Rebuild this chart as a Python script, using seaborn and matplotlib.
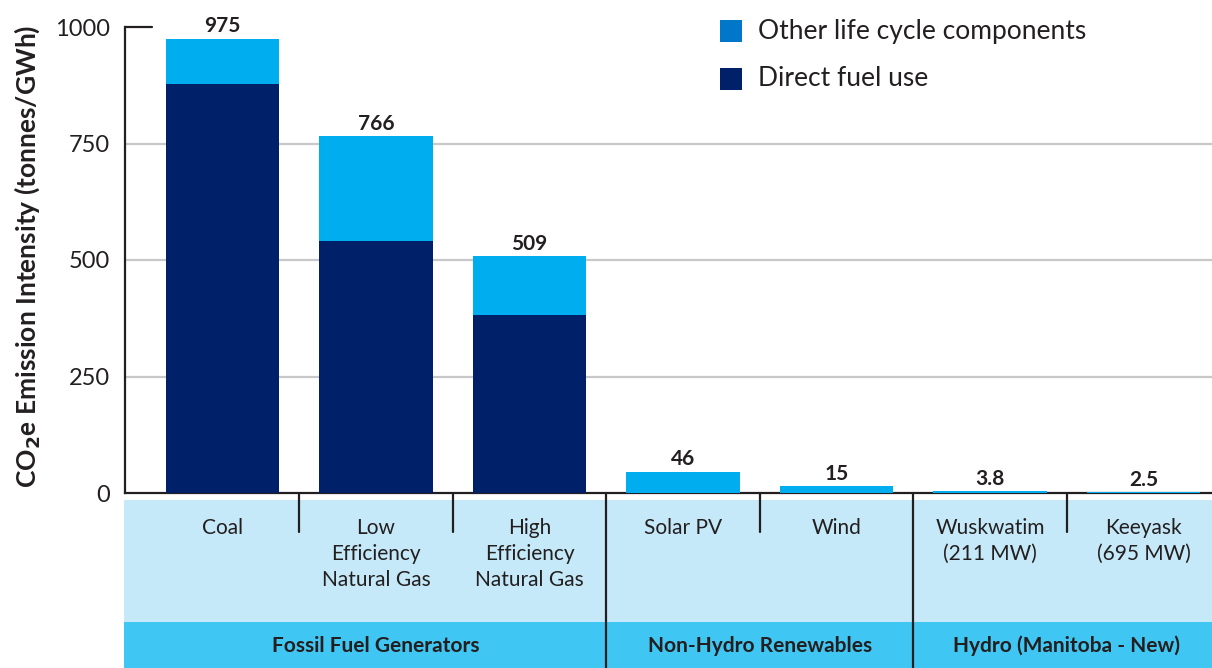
import matplotlib
matplotlib.use("Agg")
import matplotlib.pyplot as plt
import seaborn as sns
import numpy as np
import pandas as pd
from matplotlib.patches import Rectangle

categories = ["Coal", "Low\nEfficiency\nNatural Gas", "High\nEfficiency\nNatural Gas",
              "Solar PV", "Wind", "Wuskwatim\n(211 MW)", "Keeyask\n(695 MW)"]
direct_fuel = [878, 541, 382, 0, 0, 0, 0]
other_lifecycle = [97, 225, 127, 46, 15, 3.8, 2.5]
value_labels = ["975", "766", "509", "46", "15", "3.8", "2.5"]
groups = ["Fossil Fuel Generators", "Non-Hydro Renewables", "Hydro (Manitoba - New)"]
group_sizes = [3, 2, 2]
yticks = [0, 250, 500, 750, 1000]
legend_labels = ["Other life cycle components", "Direct fuel use"]

NAVY = "#002169"
LIGHT = "#00ADEE"
LEG_OTHER = "#0077C8"
BAND1 = "#C5E9F8"
BAND2 = "#40C6F2"
INK = "#231F20"

sns.set_theme(style="white")
plt.rcParams["font.family"] = ["Lato", "DejaVu Sans"]

W, H = 1212, 668
fig = plt.figure(figsize=(W / 100, H / 100), dpi=100)

# main axes: spine x=125, y 0->493px, 1000->27px
ax = fig.add_axes([125 / W, (H - 493) / H, (W - 125) / W, (493 - 27) / H])

df = pd.DataFrame({"cat": categories,
                   "direct": direct_fuel,
                   "total": np.array(direct_fuel) + np.array(other_lifecycle)})

for y in yticks[1:-1]:
    ax.axhline(y, color="#C8C8C8", lw=1.6, zorder=0)

sns.barplot(data=df, x="cat", y="total", color=LIGHT, saturation=1, width=0.74,
            linewidth=0, edgecolor="none", ax=ax, zorder=3)
sns.barplot(data=df, x="cat", y="direct", color=NAVY, saturation=1, width=0.74,
            linewidth=0, edgecolor="none", ax=ax, zorder=4)

for i, (t, lab) in enumerate(zip(df["total"], value_labels)):
    ax.annotate(lab, (i, t), xytext=(0, 4.5), textcoords="offset points",
                ha="center", va="baseline", fontsize=15, fontweight="bold",
                color=INK, annotation_clip=False)

n = len(categories)
ax.set_xlim(-0.635, n - 1 + 0.446)
ax.set_ylim(0, 1000)
ax.set_yticks(yticks)
ax.set_yticklabels([str(v) for v in yticks], fontsize=17, color=INK)
ax.tick_params(axis="y", length=0, pad=11)
ax.set_xticks([])
ax.set_xlabel("")
ax.set_ylabel("")
for s in ["top", "right"]:
    ax.spines[s].set_visible(False)
for s in ["left", "bottom"]:
    ax.spines[s].set_color(INK)
    ax.spines[s].set_linewidth(1.6)
    ax.spines[s].set_zorder(2)
ax.axhline(1000, xmin=0, xmax=27 / (W - 125), color=INK, lw=1.6, clip_on=False)

fig.text(27 / W, 1 - 256 / H, "CO$_\\mathbf{2}$e Emission Intensity (tonnes/GWh)",
         rotation=90, ha="center", va="center", fontsize=19, fontweight="bold",
         color=INK)

# band axes (below)
bax = fig.add_axes([124 / W, 0, (W - 124) / W, (H - 500) / H])
bax.set_xlim(-0.635 - 1 / 153.5, n - 1 + 0.446)
bax.set_ylim(0, H - 500)
bax.axis("off")
bax.add_patch(Rectangle((-2, 46), n + 4, H - 500 - 46, color=BAND1, lw=0))
bax.add_patch(Rectangle((-2, 0), n + 4, 46, color=BAND2, lw=0))

for i, c in enumerate(categories):
    bax.text(i, 150, c, ha="center", va="top", fontsize=15, color=INK,
             linespacing=1.38)

start = 0
for g, sz in zip(groups, group_sizes):
    center = start + (sz - 1) / 2
    bax.text(center, 22, g, ha="center", va="center", fontsize=15,
             fontweight="bold", color=INK)
    for k in range(1, sz):
        bax.plot([start + k - 0.5] * 2, [H - 500 - 39 + 7, H - 500 + 7],
                 color=INK, lw=1.6, clip_on=False, zorder=5)
    if start > 0:
        bax.plot([start - 0.5] * 2, [0, H - 500 + 7], color=INK, lw=1.6,
                 clip_on=False, zorder=5)
    start += sz

# legend
leg_colors = [LEG_OTHER, NAVY]
leg_y = [31, 79]
for col, lab, yy in zip(leg_colors, legend_labels, leg_y):
    fig.add_artist(Rectangle((720 / W, 1 - (yy + 11) / H), 22 / W, 22 / H,
                             color=col, lw=0, transform=fig.transFigure))
    fig.text(758 / W, 1 - yy / H, lab, ha="left", va="center", fontsize=19,
             color=INK)

fig.savefig("out.png", dpi=100)
